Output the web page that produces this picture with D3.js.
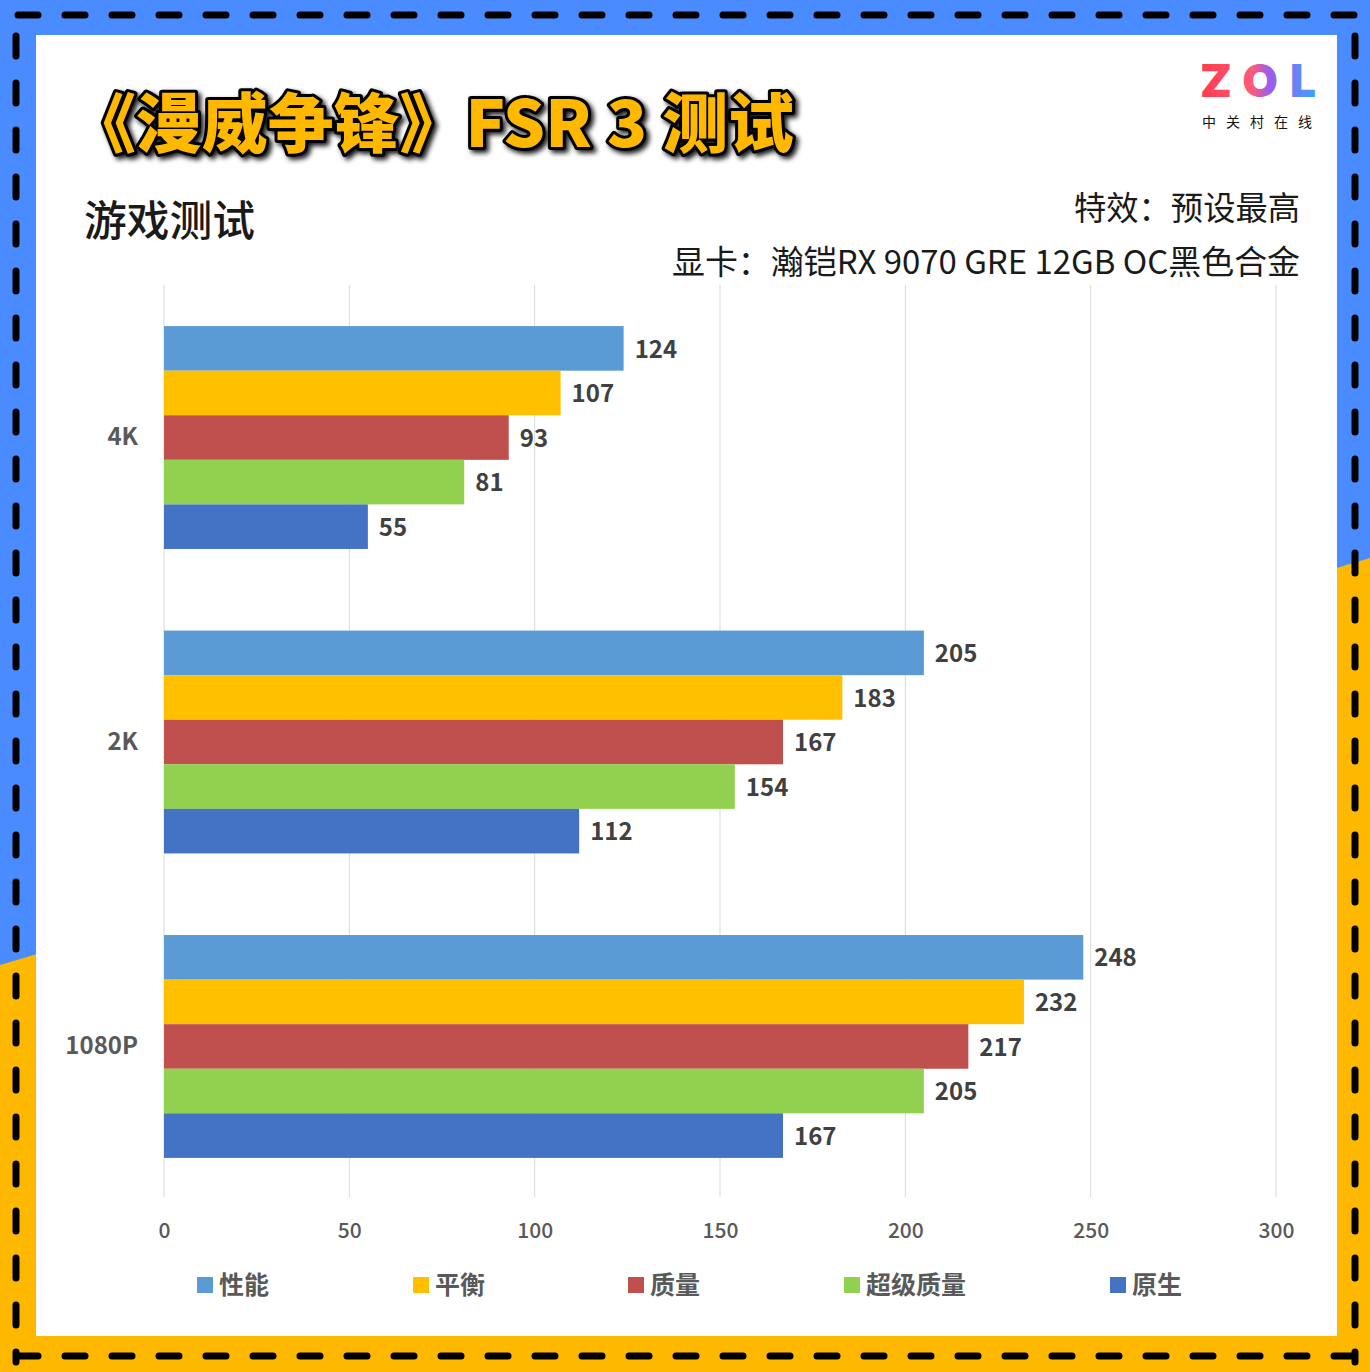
<!DOCTYPE html>
<html>
<head>
<meta charset="utf-8">
<script src="https://cdn.jsdelivr.net/npm/d3@7"></script>
<style>
  html, body { margin: 0; padding: 0; background: #fff; }
  svg { display: block; font-family: "Noto Sans CJK SC", "Noto Sans", sans-serif; }
</style>
</head>
<body>
<svg id="chart" width="1370" height="1372"></svg>
<script>
const categories = ["4K", "2K", "1080P"];
const seriesNames = ["性能", "平衡", "质量", "超级质量", "原生"];
const seriesColors = ["#5b9bd5", "#ffc000", "#c0504d", "#92d050", "#4472c4"];
const perf    = [124, 205, 248];
const balance = [107, 183, 232];
const quality = [93, 167, 217];
const ultra   = [81, 154, 205];
const native  = [55, 112, 167];
const xTicks  = [0, 50, 100, 150, 200, 250, 300];

const seriesValues = [perf, balance, quality, ultra, native];

const svg = d3.select("#chart");
const W = 1370, H = 1372;

// background: blue top-left, orange bottom-right, split on a diagonal
svg.append("rect").attr("width", W).attr("height", H).attr("fill", "#ffb800");
svg.append("polygon")
  .attr("points", `0,0 ${W},0 ${W},558 0,965`)
  .attr("fill", "#4a8cff");

// dashed frame
const dash = g => g.attr("stroke", "#000").attr("stroke-width", 7)
  .attr("stroke-linecap", "round").attr("stroke-dasharray", "20 27").attr("fill", "none");
svg.append("line").attr("x1", 18).attr("x2", W - 10).attr("y1", 15).attr("y2", 15).call(dash);
svg.append("line").attr("x1", 18).attr("x2", W - 10).attr("y1", 1356).attr("y2", 1356).call(dash);
svg.append("line").attr("x1", 16).attr("x2", 16).attr("y1", 36).attr("y2", H - 10).call(dash);
svg.append("line").attr("x1", 1355).attr("x2", 1355).attr("y1", 36).attr("y2", H - 10).call(dash);

// white panel
svg.append("rect").attr("x", 36).attr("y", 35).attr("width", 1301).attr("height", 1301).attr("fill", "#fff");

// title with black outline and shadow
const defs = svg.append("defs");
const shadow = defs.append("filter").attr("id", "tshadow")
  .attr("x", "-5%").attr("y", "-20%").attr("width", "110%").attr("height", "140%");
shadow.append("feDropShadow").attr("dx", 3).attr("dy", 3).attr("stdDeviation", 2.5)
  .attr("flood-color", "#000").attr("flood-opacity", 0.9);
svg.append("text")
  .attr("x", 70).attr("y", 147)
  .attr("font-size", 65).attr("font-weight", 900)
  .attr("textLength", 724).attr("lengthAdjust", "spacingAndGlyphs")
  .attr("fill", "#ffb800").attr("stroke", "#000").attr("stroke-width", 6)
  .attr("stroke-linejoin", "round").attr("paint-order", "stroke")
  .attr("filter", "url(#tshadow)")
  .text("《漫威争锋》FSR 3 测试");

// ZOL logo
const grad = defs.append("linearGradient").attr("id", "zolg").attr("x1", "0").attr("x2", "1");
grad.append("stop").attr("offset", "0").attr("stop-color", "#ff3b4e");
grad.append("stop").attr("offset", "0.45").attr("stop-color", "#ff5a7a");
grad.append("stop").attr("offset", "0.6").attr("stop-color", "#9b5cf0");
grad.append("stop").attr("offset", "1").attr("stop-color", "#3fa0ff");
svg.append("text").attr("x", 1200).attr("y", 97)
  .attr("font-size", 46).attr("font-weight", 900).attr("font-family", "Inter, sans-serif")
  .attr("fill", "url(#zolg)").attr("textLength", 116)
  .text("ZOL");
svg.append("text").attr("x", 1202).attr("y", 127)
  .attr("font-size", 14).attr("fill", "#111").attr("letter-spacing", 10)
  .text("中关村在线");

// subtitles
svg.append("text").attr("x", 84).attr("y", 236).attr("font-size", 42)
  .attr("font-weight", 500).attr("fill", "#1a1a1a")
  .attr("textLength", 171).attr("lengthAdjust", "spacingAndGlyphs").text("游戏测试");
svg.append("text").attr("x", 1300).attr("y", 220).attr("text-anchor", "end")
  .attr("font-size", 33).attr("fill", "#1a1a1a")
  .attr("textLength", 226).attr("lengthAdjust", "spacingAndGlyphs").text("特效：预设最高");
svg.append("text").attr("x", 1300).attr("y", 274).attr("text-anchor", "end")
  .attr("font-size", 33).attr("fill", "#1a1a1a")
  .attr("textLength", 628).attr("lengthAdjust", "spacingAndGlyphs")
  .text("显卡：瀚铠RX 9070 GRE 12GB OC黑色合金");

// scales
const x = d3.scaleLinear().domain([0, 300]).range([164, 1276]);
const y0 = d3.scaleBand().domain(categories).range([285, 1199])
  .paddingInner(0.268).paddingOuter(0.135);
const y1 = d3.scaleBand().domain(seriesNames).range([0, y0.bandwidth()]);

// gridlines
svg.append("g").selectAll("line").data(xTicks).join("line")
  .attr("x1", d => x(d)).attr("x2", d => x(d))
  .attr("y1", 285).attr("y2", 1197)
  .attr("stroke", "#d9d9d9").attr("stroke-width", 1);

// x axis labels
const xAxis = svg.append("g").attr("transform", "translate(0,1197)")
  .call(d3.axisBottom(x).tickValues(xTicks).tickSize(0).tickPadding(26));
xAxis.select(".domain").remove();
xAxis.selectAll("text").attr("font-size", 21).attr("font-weight", 500)
  .attr("fill", "#595959").attr("font-family", "\"Noto Sans CJK SC\", sans-serif");

// y axis labels
const yAxis = svg.append("g").attr("transform", "translate(138,0)")
  .call(d3.axisLeft(y0).tickSize(0).tickPadding(0));
yAxis.select(".domain").remove();
yAxis.selectAll("text").attr("font-size", 24).attr("font-weight", 700)
  .attr("fill", "#595959").attr("font-family", "\"Noto Sans CJK SC\", sans-serif");

// bars
const rows = [];
categories.forEach((c, ci) => {
  seriesNames.forEach((s, si) => {
    rows.push({ cat: c, series: s, value: seriesValues[si][ci], color: seriesColors[si] });
  });
});

const groups = svg.append("g");
groups.selectAll("rect").data(rows).join("rect")
  .attr("x", x(0))
  .attr("y", d => y0(d.cat) + y1(d.series))
  .attr("width", d => x(d.value) - x(0))
  .attr("height", y1.bandwidth())
  .attr("fill", d => d.color);

groups.selectAll("text").data(rows).join("text")
  .attr("x", d => x(d.value) + 11)
  .attr("y", d => y0(d.cat) + y1(d.series) + y1.bandwidth() / 2)
  .attr("dy", "0.38em")
  .attr("font-size", 24).attr("font-weight", 700).attr("fill", "#404040")
  .text(d => d.value);

// legend
const legendX = [197, 413, 628, 844, 1110];
const legend = svg.append("g").selectAll("g").data(seriesNames).join("g")
  .attr("transform", (d, i) => `translate(${legendX[i]},1285)`);
legend.append("rect").attr("x", 0).attr("y", -8).attr("width", 16).attr("height", 16)
  .attr("fill", (d, i) => seriesColors[i]);
legend.append("text").attr("x", 22).attr("dy", "0.36em")
  .attr("font-size", 25).attr("font-weight", 700).attr("fill", "#595959")
  .text(d => d);
</script>
</body>
</html>
